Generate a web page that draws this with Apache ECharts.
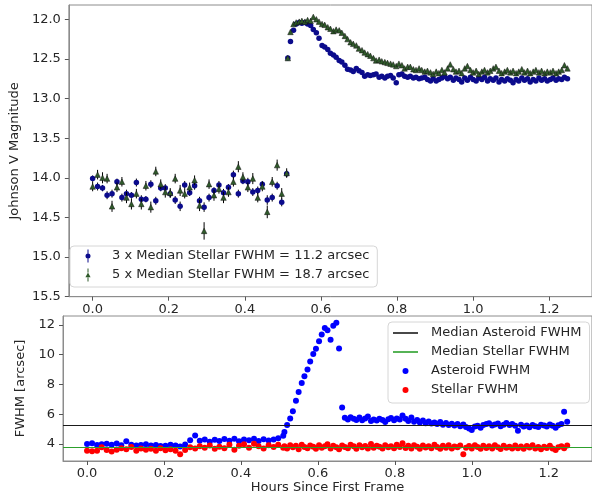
<!DOCTYPE html>
<html>
<head>
<meta charset="utf-8">
<title>Asteroid photometry</title>
<script src="https://cdn.jsdelivr.net/npm/echarts@6/dist/echarts.min.js"></script>
<style>
    html, body {margin: 0; padding: 0; background: #fff;}
    #chart {width: 592px; height: 495px;}
</style>
</head>
<body>
<div id="chart"></div>
<script>
// hours since first frame, first block (before the jump) and second block
var hoursA = [0.000,0.013,0.026,0.038,0.051,0.064,0.077,0.089,0.102,0.115,
    0.128,0.140,0.153,0.166,0.179,0.191,0.204,0.217,0.230,0.242,
    0.255,0.268,0.281,0.293,0.306,0.319,0.332,0.344,0.357,0.370,
    0.383,0.395,0.408,0.421,0.434,0.446,0.459,0.472,0.485,0.497,0.510];
var hoursB = [0.513,0.520,0.528,0.535,0.543,0.550,0.558,0.565,0.573,0.580,
    0.588,0.595,0.603,0.610,0.618,0.625,0.633,0.640,0.648,0.655,
    0.663,0.670,0.678,0.685,0.693,0.700,0.708,0.715,0.723,0.730,
    0.738,0.745,0.753,0.760,0.768,0.775,0.783,0.790,0.798,0.805,
    0.813,0.820,0.828,0.835,0.843,0.850,0.858,0.865,0.873,0.880,
    0.888,0.895,0.903,0.910,0.918,0.925,0.933,0.940,0.948,0.955,
    0.963,0.970,0.978,0.985,0.993,1.000,1.008,1.015,1.023,1.030,
    1.038,1.045,1.053,1.060,1.068,1.075,1.083,1.090,1.098,1.105,
    1.113,1.120,1.128,1.135,1.143,1.150,1.158,1.165,1.173,1.180,
    1.188,1.195,1.203,1.210,1.218,1.225,1.233,1.240,1.248];

// 3 x FWHM aperture magnitudes
var mag3A = [14.01,14.11,14.13,14.22,14.20,14.05,14.25,14.20,14.22,14.06,
    14.27,14.27,14.08,14.29,14.13,14.13,14.20,14.28,14.36,14.09,
    14.19,14.10,14.29,14.37,14.25,14.16,14.09,14.19,14.12,13.96,
    14.20,14.04,14.05,14.18,14.16,14.08,14.28,14.25,14.10,14.31,13.95];
var err3A = [0.04,0.05,0.04,0.05,0.05,0.04,0.05,0.05,0.04,0.05,
    0.05,0.04,0.05,0.05,0.04,0.05,0.05,0.05,0.06,0.05,
    0.04,0.05,0.05,0.06,0.05,0.04,0.05,0.05,0.04,0.05,
    0.05,0.04,0.05,0.05,0.05,0.04,0.06,0.05,0.05,0.05,0.04];
var mag3B = [12.49,12.28,12.14,12.06,12.04,12.05,12.04,12.06,12.08,12.13,
    12.17,12.24,12.33,12.35,12.38,12.43,12.45,12.48,12.52,12.54,
    12.58,12.63,12.64,12.66,12.62,12.65,12.67,12.72,12.70,12.71,
    12.70,12.69,12.73,12.72,12.74,12.72,12.71,12.74,12.80,12.70,
    12.69,12.72,12.73,12.72,12.74,12.73,12.75,12.74,12.73,12.76,
    12.78,12.75,12.78,12.76,12.74,12.72,12.75,12.73,12.77,12.74,
    12.76,12.79,12.74,12.77,12.73,12.76,12.78,12.74,12.76,12.73,
    12.78,12.75,12.77,12.74,12.79,12.76,12.78,12.75,12.77,12.80,
    12.76,12.78,12.74,12.77,12.75,12.79,12.76,12.78,12.74,12.77,
    12.75,12.78,12.76,12.74,12.77,12.75,12.76,12.73,12.75];

// 5 x FWHM aperture magnitudes
var mag5A = [14.11,13.96,14.00,14.01,14.36,14.12,14.05,14.25,14.33,14.20,
    14.33,14.10,14.37,13.92,14.08,14.18,14.19,14.01,14.16,14.20,
    14.12,14.03,14.35,14.67,14.08,14.22,14.14,14.25,14.18,14.05,
    13.86,13.99,14.12,14.01,14.25,14.11,14.43,14.05,13.84,14.20,13.94];
var err5A = [0.06,0.06,0.07,0.06,0.07,0.06,0.06,0.07,0.07,0.06,
    0.07,0.06,0.07,0.06,0.06,0.07,0.06,0.06,0.07,0.06,
    0.06,0.06,0.07,0.11,0.06,0.07,0.06,0.07,0.06,0.06,
    0.07,0.06,0.06,0.07,0.06,0.06,0.08,0.06,0.07,0.07,0.06];
var mag5B = [12.49,12.16,12.06,12.04,12.03,12.02,12.03,12.01,12.02,11.97,
    12.00,12.03,12.06,12.07,12.10,12.12,12.15,12.13,12.14,12.17,
    12.21,12.25,12.29,12.31,12.33,12.37,12.39,12.42,12.44,12.46,
    12.49,12.52,12.51,12.53,12.54,12.55,12.56,12.57,12.59,12.56,
    12.58,12.62,12.60,12.60,12.63,12.64,12.62,12.64,12.66,12.65,
    12.67,12.69,12.66,12.68,12.64,12.67,12.62,12.57,12.63,12.66,
    12.65,12.68,12.62,12.59,12.64,12.67,12.65,12.69,12.66,12.64,
    12.67,12.65,12.62,12.60,12.65,12.68,12.66,12.64,12.67,12.65,
    12.68,12.66,12.63,12.67,12.65,12.68,12.66,12.64,12.67,12.65,
    12.68,12.66,12.67,12.65,12.68,12.66,12.64,12.58,12.62];

// FWHM of the asteroid and of the field stars [arcsec]
var asteroidA = [4.00,4.06,3.93,3.98,4.02,3.95,4.03,3.92,4.18,3.95,
    3.90,3.93,3.98,3.90,3.94,3.86,3.88,3.95,3.90,3.84,
    3.97,4.25,4.58,4.22,4.30,4.15,4.28,4.20,4.33,4.22,
    4.35,4.18,4.30,4.25,4.36,4.20,4.32,4.24,4.30,4.38,4.55];
var asteroidB = [4.80,5.27,5.72,6.20,6.90,7.50,8.10,8.55,9.00,9.55,
    10.05,10.40,10.90,11.35,11.80,11.65,11.00,11.95,12.15,10.42,
    6.46,5.77,5.65,5.80,5.70,5.62,5.78,5.60,5.72,5.85,
    5.55,5.65,5.58,5.70,5.62,5.48,5.66,5.75,5.60,5.72,
    5.65,5.92,5.70,5.55,5.78,5.50,5.62,5.45,5.58,5.40,
    5.52,5.38,5.45,5.35,5.48,5.30,5.42,5.28,5.36,5.25,
    5.35,5.20,5.32,5.15,5.05,4.95,5.18,5.22,5.10,5.28,
    5.35,5.40,5.25,5.32,5.38,5.20,5.30,5.42,5.28,5.35,
    5.22,4.90,5.30,5.18,5.25,5.12,5.28,5.20,5.15,5.30,
    5.25,5.18,5.32,5.22,5.10,5.26,5.35,6.17,5.50];
var stellarA = [3.55,3.52,3.55,3.78,3.60,3.50,3.62,3.72,3.65,3.80,
    3.55,3.70,3.62,3.68,3.55,3.72,3.58,3.65,3.55,3.32,
    3.60,3.78,3.70,3.85,3.75,3.90,3.68,3.82,3.72,3.95,
    3.62,3.88,3.98,3.75,4.02,3.85,3.70,3.92,3.80,3.95,3.75];
var stellarB = [3.85,3.70,3.92,3.78,3.88,3.65,3.95,3.80,3.72,3.90,
    3.82,3.68,3.92,3.75,3.85,3.98,3.70,3.88,3.78,3.65,
    3.90,3.80,3.72,3.95,3.85,3.68,3.92,3.78,3.86,3.70,
    4.00,3.75,3.88,3.82,3.70,3.92,3.78,3.85,3.72,3.95,
    3.80,4.05,3.74,3.88,3.70,3.92,3.82,3.68,3.90,3.76,
    3.85,3.72,3.95,3.80,3.68,3.88,3.75,3.92,3.70,3.84,
    3.78,3.90,3.31,3.75,3.86,3.70,3.92,3.80,3.68,3.88,
    3.74,3.85,3.70,3.92,3.78,3.66,3.88,3.75,3.82,3.70,
    3.90,3.72,3.84,3.68,3.86,3.76,3.92,3.70,3.80,3.65,
    3.82,3.74,3.88,3.70,3.60,3.78,3.85,3.72,3.90];

var medianAsteroid = 5.27;
var medianStellar = 3.80;

// tick labels
var hourTicks = [0.0, 0.2, 0.4, 0.6, 0.8, 1.0, 1.2];
var magTicks = [12.0, 12.5, 13.0, 13.5, 14.0, 14.5, 15.0, 15.5];
var fwhmTicks = [4, 6, 8, 10, 12];

var topNames = ['3 x Median Stellar FWHM = 11.2 arcsec', '5 x Median Stellar FWHM = 18.7 arcsec'];
var bottomNames = ['Median Asteroid FWHM', 'Median Stellar FWHM', 'Asteroid FWHM', 'Stellar FWHM'];

(function () {
    var FONT = 'DejaVu Sans';
    var TEXT = '#262626';
    var FRAME = '#8c8c8c';
    var TICK = '#555';

    function zip() {
        var cols = Array.prototype.slice.call(arguments);
        return cols[0].map(function (v, i) {
            return cols.map(function (c) { return c[i]; });
        });
    }

    // vertical error bar, drawn through the axis scales
    function renderErrorBar(params, api) {
        var x = api.value(0), y = api.value(1), e = api.value(2);
        var p1 = api.coord([x, y - e]);
        var p2 = api.coord([x, y + e]);
        return {
            type: 'line',
            shape: {x1: p1[0], y1: p1[1], x2: p2[0], y2: p2[1]},
            style: {stroke: '#000', lineWidth: 1}
        };
    }

    function xAxis(idx, name) {
        return {
            type: 'value', gridIndex: idx, min: -0.0625, max: 1.3125,
            name: name, nameLocation: 'middle', nameGap: 19,
            nameTextStyle: {fontFamily: FONT, fontSize: 13, color: TEXT},
            axisLine: {show: true, onZero: false, lineStyle: {color: FRAME, width: 1}},
            splitLine: {show: false},
            axisTick: {show: true, inside: false, length: 4, lineStyle: {color: TICK, width: 1}, customValues: hourTicks},
            axisLabel: {
                fontFamily: FONT, fontSize: 13, color: TEXT, margin: 6,
                customValues: hourTicks,
                formatter: function (v) { return v.toFixed(1); }
            }
        };
    }

    function yAxis(idx, min, max, name, gap, ticks, fmt) {
        return {
            type: 'value', gridIndex: idx, min: min, max: max, inverse: idx === 0,
            name: name, nameLocation: 'middle', nameGap: gap,
            nameTextStyle: {fontFamily: FONT, fontSize: 13, color: TEXT},
            axisLine: {show: true, onZero: false, lineStyle: {color: FRAME, width: 1}},
            splitLine: {show: false},
            axisTick: {show: true, inside: false, length: 4, lineStyle: {color: TICK, width: 1}, customValues: ticks},
            axisLabel: {
                fontFamily: FONT, fontSize: 13, color: TEXT, margin: 8,
                customValues: ticks, formatter: fmt
            }
        };
    }

    // legend icons (the leading moves only fix the icon box)
    var dotIcon = 'path://M0,0M25,14M9.5,7a3,3 0 1,0 6,0a3,3 0 1,0 -6,0z';
    var barIcon = 'path://M0,0M25,14M0,6h25v2h-25z';
    var errDotIcon = 'path://M0,0M20,14M9.5,0.5h1v4h-1zM9.5,9.5h1v4h-1zM7.5,7a2.5,2.5 0 1,0 5,0a2.5,2.5 0 1,0 -5,0z';
    var errTriIcon = 'path://M0,0M20,14M9.5,0.5h1v4h-1zM9.5,9.5h1v4h-1zM10,4.6l2.6,4.6h-5.2z';

    var legendBox = {
        backgroundColor: 'rgba(255,255,255,0.8)', borderColor: '#d6d6d6', borderWidth: 1, borderRadius: 4,
        itemStyle: {borderWidth: 0}
    };

    var option = {
        animation: false,
        backgroundColor: '#fff',
        textStyle: {fontFamily: FONT},
        grid: [
            {left: 63, right: -4, top: 5, height: 291.7, show: true, borderColor: FRAME, borderWidth: 1},
            {left: 63, right: -4, top: 316, height: 145, show: true, borderColor: FRAME, borderWidth: 1}
        ],
        xAxis: [xAxis(0, ''), xAxis(1, 'Hours Since First Frame')],
        yAxis: [
            yAxis(0, 11.82, 15.5, 'Johnson V Magnitude', 38, magTicks, function (v) { return v.toFixed(1); }),
            yAxis(1, 2.86, 12.6, 'FWHM [arcsec]', 24, fwhmTicks, function (v) { return String(v); })
        ],
        legend: [
            Object.assign({
                orient: 'vertical', left: 70, top: 246,
                padding: [3, 8, 5, 8], itemGap: 5, itemWidth: 20, itemHeight: 14,
                textStyle: {fontFamily: FONT, fontSize: 13, color: TEXT, padding: [0, 0, 0, 9]},
                data: [
                    {name: topNames[0], icon: errDotIcon},
                    {name: topNames[1], icon: errTriIcon}
                ]
            }, legendBox),
            Object.assign({
                orient: 'vertical', left: 388, top: 322,
                padding: [4, 8, 6, 5], itemGap: 5, itemWidth: 25, itemHeight: 14,
                textStyle: {fontFamily: FONT, fontSize: 13, color: TEXT, padding: [0, 0, 0, 8]},
                data: [
                    {name: bottomNames[0], icon: barIcon},
                    {name: bottomNames[1], icon: barIcon},
                    {name: bottomNames[2], icon: dotIcon},
                    {name: bottomNames[3], icon: dotIcon}
                ]
            }, legendBox)
        ],
        series: [
            // top panel
            {
                type: 'custom', xAxisIndex: 0, yAxisIndex: 0, z: 2,
                renderItem: renderErrorBar, encode: {x: 0, y: 1},
                data: zip(hoursA, mag3A, err3A)
            },
            {
                name: topNames[0], type: 'scatter', xAxisIndex: 0, yAxisIndex: 0, z: 3,
                symbol: 'circle', symbolSize: 5.5,
                itemStyle: {color: '#0b0b8c', opacity: 1},
                data: zip(hoursA, mag3A).concat(zip(hoursB, mag3B))
            },
            {
                type: 'custom', xAxisIndex: 0, yAxisIndex: 0, z: 4,
                renderItem: renderErrorBar, encode: {x: 0, y: 1},
                data: zip(hoursA, mag5A, err5A)
            },
            {
                name: topNames[1], type: 'scatter', xAxisIndex: 0, yAxisIndex: 0, z: 5,
                symbol: 'triangle', symbolSize: 5.5,
                itemStyle: {color: '#2f5a2a', borderColor: '#111', borderWidth: 0.5, opacity: 1},
                data: zip(hoursA, mag5A).concat(zip(hoursB, mag5B))
            },
            // bottom panel: median lines span the whole axis
            {
                name: bottomNames[0], type: 'scatter', xAxisIndex: 1, yAxisIndex: 1, z: 2,
                data: [],
                itemStyle: {color: '#1a1a1a'},
                markLine: {
                    silent: true, symbol: 'none', label: {show: false},
                    lineStyle: {color: '#1a1a1a', width: 1.2, type: 'solid'},
                    data: [{yAxis: medianAsteroid}]
                }
            },
            {
                name: bottomNames[1], type: 'scatter', xAxisIndex: 1, yAxisIndex: 1, z: 2,
                data: [],
                itemStyle: {color: '#2ca02c'},
                markLine: {
                    silent: true, symbol: 'none', label: {show: false},
                    lineStyle: {color: '#2ca02c', width: 1.2, type: 'solid'},
                    data: [{yAxis: medianStellar}]
                }
            },
            {
                name: bottomNames[2], type: 'scatter', xAxisIndex: 1, yAxisIndex: 1, z: 3,
                symbol: 'circle', symbolSize: 6,
                itemStyle: {color: '#0000ff', opacity: 1},
                data: zip(hoursA, asteroidA).concat(zip(hoursB, asteroidB))
            },
            {
                name: bottomNames[3], type: 'scatter', xAxisIndex: 1, yAxisIndex: 1, z: 4,
                symbol: 'circle', symbolSize: 6,
                itemStyle: {color: '#ff0000', opacity: 1},
                data: zip(hoursA, stellarA).concat(zip(hoursB, stellarB))
            }
        ]
    };

    var chart = echarts.init(document.getElementById('chart'), null, {renderer: 'canvas'});
    chart.setOption(option);
})();
</script>
</body>
</html>
